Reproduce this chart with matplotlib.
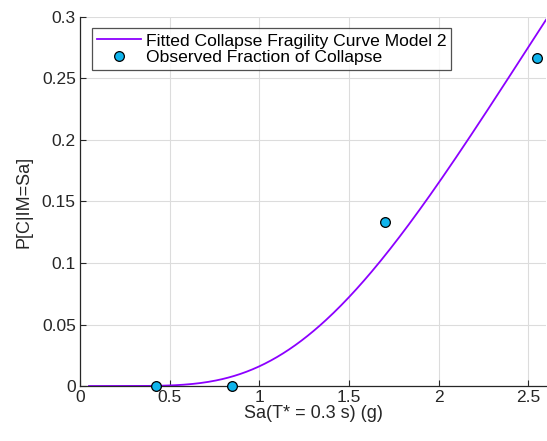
import math
import numpy as np
import matplotlib.pyplot as plt

plt.rcParams['font.family'] = ['Liberation Sans', 'DejaVu Sans']

# Datos observados
sa_obs = [0.425, 0.85, 1.7, 2.55]
frac_colapso = [0.0, 0.0, 2 / 15, 4 / 15]

# Parametros de la curva ajustada (lognormal)
theta = 3.56
beta = 0.592
sa_min, sa_max = 0.05, 2.6

sa = np.linspace(sa_min, sa_max, 300)
p_colapso = [0.5 * (1 + math.erf(math.log(s / theta) / (beta * math.sqrt(2)))) for s in sa]

fig = plt.figure(figsize=(5.47, 4.41), dpi=100)
ax = fig.add_axes([0.1463, 0.1247, 0.852, 0.8368])

ax.plot(sa, p_colapso, color='#8C00FF', lw=1.3, label='Fitted Collapse Fragility Curve Model 2')
ax.plot(sa_obs, frac_colapso, 'o', ms=7, mfc='#10B4EC', mec='black', mew=0.9,
        label='Observed Fraction of Collapse', clip_on=False, zorder=5)

ax.set_xlim(0, 2.6)
ax.set_ylim(0, 0.3)
ax.set_xticks([0, 0.5, 1, 1.5, 2, 2.5])
ax.set_xticklabels(['0', '0.5', '1', '1.5', '2', '2.5'])
ax.set_yticks([0, 0.05, 0.1, 0.15, 0.2, 0.25, 0.3])
ax.set_yticklabels(['0', '0.05', '0.1', '0.15', '0.2', '0.25', '0.3'])
ax.grid(True, color='#DCDCDC', lw=0.8)
ax.set_axisbelow(True)
for s in ['top', 'right']:
    ax.spines[s].set_visible(False)
for s in ['left', 'bottom']:
    ax.spines[s].set_color('#262626')
    ax.spines[s].set_linewidth(0.9)
ax.tick_params(direction='in', length=4, labelsize=12.5, colors='#262626', width=0.8, pad=3)

ax.set_xlabel('Sa(T* = 0.3 s) (g)', fontsize=13, color='#262626', labelpad=0)
ax.set_ylabel('P[C|IM=Sa]', fontsize=13, color='#262626', labelpad=7)

leg = ax.legend(loc='upper left', bbox_to_anchor=(0.026, 0.97), fontsize=12.6, frameon=True,
                fancybox=False, edgecolor='#262626', borderpad=0.3, labelspacing=0.05,
                handlelength=2.5, handletextpad=0.25, borderaxespad=0)
leg.get_frame().set_linewidth(0.9)

plt.savefig('out.png', dpi=100)
